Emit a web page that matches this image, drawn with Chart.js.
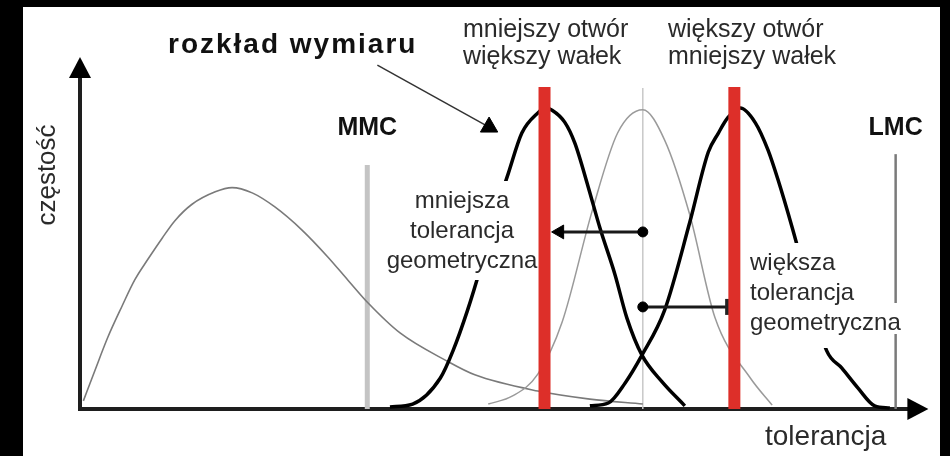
<!DOCTYPE html>
<html><head><meta charset="utf-8">
<script src="https://cdn.jsdelivr.net/npm/chart.js@4.4.1/dist/chart.umd.min.js"></script>
<style>html,body{margin:0;padding:0;background:#000;width:950px;height:456px;overflow:hidden}#wrap{position:absolute;left:0;top:0;width:950px;height:456px}</style>
</head><body><div id="wrap"><canvas id="c" width="950" height="456"></canvas></div>
<script>
// ---- data (abstract units: x 0..100 tolerance, y 0..100 frequency) ----
const skewX = [0.4, 1.8, 3.3, 5.0, 6.5, 8.1, 9.8, 11.3, 13.3, 16.1, 18.1, 20.5, 23.2, 26.4, 29.5, 31.9, 34.3, 38.1, 43.7, 47.0, 54.5, 60.7, 67.0];
const skewY = [2.3, 11.1, 20.3, 29.2, 36.6, 42.6, 48.6, 53.5, 58.1, 61.7, 62.9, 61.4, 57.4, 50.9, 43.2, 36.6, 30.1, 21.6, 13.6, 9.7, 5.1, 2.8, 1.4];
const midX = [48.6, 51.5, 54.5, 57.4, 61.0, 64.0, 67.0, 69.6, 72.6, 75.6, 79.8, 82.4];
const midY = [1.4, 3.7, 9.9, 24.7, 56.5, 78.4, 85.0, 76.4, 55.1, 25.9, 8.8, 1.1];
const leftX = [36.9, 39.6, 42.9, 44.4, 46.1, 47.6, 49.2, 51.0, 52.6, 54.5, 55.4, 56.2, 57.7, 58.9, 60.5, 61.9, 63.7, 65.1, 66.9, 69.3, 72.0];
const leftY = [0.6, 1.4, 8.8, 16.5, 27.8, 39.5, 53.7, 67.0, 78.4, 84.1, 85.5, 84.9, 81.5, 75.6, 63.1, 51.4, 38.1, 25.9, 15.3, 7.7, 0.9];
const rightX = [60.7, 62.9, 64.9, 66.9, 69.6, 72.6, 74.8, 76.0, 77.1, 78.6, 80.4, 81.9, 83.1, 84.8, 86.9, 88.9, 90.7, 92.6, 94.6, 96.4];
const rightY = [0.9, 1.7, 7.4, 15.3, 28.1, 53.1, 73.0, 78.4, 82.7, 85.5, 81.3, 73.6, 65.1, 51.4, 33.0, 16.5, 11.6, 6.0, 0.9, 0.3];
const limitX = [34.2, 97.1];
const limitTop = [69.3, 72.4];
const limitLabels = ['MMC', 'LMC'];
const centerX = 67.0;
const centerTop = 91.2;
const redX = [55.3, 77.9];
const redTop = 91.5;
const arrowY = [50.3, 29.0];
const arrowFrom = [67.0, 67.0];
const arrowTo = [57.1, 77.1];
const pointerX = [35.4, 48.7];
const pointerY = [97.7, 80.1];
const topLabels = [['mniejszy otwór', 'większy wałek'], ['większy otwór', 'mniejszy wałek']];
const tolLabels = [['mniejsza', 'tolerancja', 'geometryczna'], ['większa', 'tolerancja', 'geometryczna']];
const titleText = 'rozkład wymiaru';
const xTitle = 'tolerancja';
const yTitle = 'częstość';

const pts = (xs, ys) => xs.map((x, i) => ({x: x, y: ys[i]}));
const vline = (x, top) => [{x: x, y: 0}, {x: x, y: top}];
const FONT = '"Liberation Sans", Arial, sans-serif';

function drawTolLabels(chart) {
  const c = chart.ctx;
  c.save();
  c.textBaseline = 'alphabetic';
  c.font = '24px ' + FONT;
  const tolPos = [{x: 462, y: 208, align: 'center', tail: 12, tailW: 140}, {x: 750, y: 270, align: 'left', tail: 18, tailW: 110}];
  tolLabels.forEach((lines, k) => {
    const p = tolPos[k];
    lines.forEach((t, j) => {
      const w = c.measureText(t).width;
      const bx = p.align === 'center' ? p.x - w / 2 : p.x;
      const by = p.y + j * 30;
      c.fillStyle = '#fff';
      c.fillRect(bx - 3, by - 27, w + 6, 31);
      if (j === lines.length - 1) c.fillRect(bx - 3, by + 3, Math.min(w + 6, p.tailW), p.tail - 3);
    });
    c.fillStyle = '#2a2a2a';
    c.textAlign = p.align;
    lines.forEach((t, j) => c.fillText(t, p.x, p.y + j * 30));
  });
  c.restore();
}

const deco = {
  id: 'deco',
  beforeDraw(chart) {
    const c = chart.ctx;
    c.save();
    c.fillStyle = '#000'; c.fillRect(0, 0, chart.width, chart.height);
    c.fillStyle = '#fff'; c.fillRect(23, 7, 917, 449);
    c.restore();
  },
  beforeDatasetsDraw(chart) {
    const c = chart.ctx, xs = chart.scales.x, ys = chart.scales.y;
    const x0 = xs.getPixelForValue(0), y0 = ys.getPixelForValue(0);
    const yTip = ys.getPixelForValue(100), xTip = xs.getPixelForValue(101);
    c.save();
    c.strokeStyle = '#1e1e1e'; c.fillStyle = '#000'; c.lineWidth = 4;
    c.beginPath(); c.moveTo(x0, y0 + 2); c.lineTo(x0, yTip + 18); c.stroke();
    c.beginPath(); c.moveTo(x0 - 2, y0); c.lineTo(xTip - 18, y0); c.stroke();
    c.beginPath(); c.moveTo(x0, yTip); c.lineTo(x0 + 11, yTip + 21); c.lineTo(x0 - 11, yTip + 21); c.closePath(); c.fill();
    c.beginPath(); c.moveTo(xTip, y0); c.lineTo(xTip - 21, y0 - 11); c.lineTo(xTip - 21, y0 + 11); c.closePath(); c.fill();
    c.restore();
  },
  afterDatasetDraw(chart, args) {
    if (args.index === 2) drawTolLabels(chart);
  },
  afterDatasetsDraw(chart) {
    const c = chart.ctx, xs = chart.scales.x;
    c.save();
    c.textBaseline = 'alphabetic';
    c.fillStyle = '#111';
    c.font = 'bold 28px ' + FONT;
    c.letterSpacing = '2px';
    c.textAlign = 'left';
    c.fillText(titleText, 168, 53);
    c.letterSpacing = '0px';
    c.font = 'bold 25px ' + FONT;
    c.textAlign = 'center';
    limitLabels.forEach((t, i) => c.fillText(t, xs.getPixelForValue(limitX[i]), 135));
    c.fillStyle = '#2a2a2a';
    c.font = '25px ' + FONT;
    c.textAlign = 'left';
    const topLeft = [463, 668];
    topLabels.forEach((lines, k) => lines.forEach((t, j) => c.fillText(t, topLeft[k], 37 + j * 27)));
    c.font = '28px ' + FONT;
    c.fillText(xTitle, 765, 445);
    c.font = '26px ' + FONT;
    c.translate(48, 175);
    c.rotate(-Math.PI / 2);
    c.textAlign = 'center';
    c.textBaseline = 'middle';
    c.fillText(yTitle, 0, 0);
    c.restore();
  }
};

const base = {pointRadius: 0, fill: false, clip: false, borderCapStyle: 'butt'};
const datasets = [
  Object.assign({}, base, {label: 'red1', data: vline(redX[0], redTop), borderColor: '#dd2f29', borderWidth: 12, order: 0}),
  Object.assign({}, base, {label: 'red2', data: vline(redX[1], redTop), borderColor: '#dd2f29', borderWidth: 12, order: 0}),
  Object.assign({}, base, {label: 'arrowA', data: [{x: arrowFrom[0], y: arrowY[0]}, {x: arrowTo[0], y: arrowY[0]}], borderColor: '#1a1a1a', borderWidth: 3,
    pointStyle: ['circle', 'triangle'], pointRotation: [0, -90], pointRadius: [5, 8], pointBackgroundColor: '#000', pointBorderColor: '#000', pointBorderWidth: 1, order: 1}),
  Object.assign({}, base, {label: 'arrowB', data: [{x: arrowFrom[1], y: arrowY[1]}, {x: arrowTo[1], y: arrowY[1]}], borderColor: '#1a1a1a', borderWidth: 3,
    pointStyle: ['circle', 'line'], pointRotation: [0, 90], pointRadius: [5, 8], pointBackgroundColor: '#000', pointBorderColor: ['#000', '#222'], pointBorderWidth: [1, 5], order: 1}),
  Object.assign({}, base, {label: 'pointer', data: pts(pointerX, pointerY), borderColor: '#333', borderWidth: 1.5,
    pointStyle: ['circle', 'triangle'], pointRadius: [0, 10], pointBackgroundColor: '#000', pointBorderColor: '#000', pointBorderWidth: 1, order: 1}),
  Object.assign({}, base, {label: 'left', data: pts(leftX, leftY), borderColor: '#000', borderWidth: 3.5, cubicInterpolationMode: 'monotone', order: 2}),
  Object.assign({}, base, {label: 'right', data: pts(rightX, rightY), borderColor: '#000', borderWidth: 3.5, cubicInterpolationMode: 'monotone', order: 2}),
  Object.assign({}, base, {label: 'mid', data: pts(midX, midY), borderColor: '#9a9a9a', borderWidth: 1.5, cubicInterpolationMode: 'monotone', order: 3}),
  Object.assign({}, base, {label: 'skew', data: pts(skewX, skewY), borderColor: '#7a7a7a', borderWidth: 1.6, cubicInterpolationMode: 'monotone', order: 3}),
  Object.assign({}, base, {label: 'center', data: vline(centerX, centerTop), borderColor: '#c8c8c8', borderWidth: 1.5, order: 4}),
  Object.assign({}, base, {label: 'MMC', data: vline(limitX[0], limitTop[0]), borderColor: '#c4c4c4', borderWidth: 5, order: 4}),
  Object.assign({}, base, {label: 'LMC', data: vline(limitX[1], limitTop[1]), borderColor: '#7a7a7a', borderWidth: 2.5, order: 4})
];

new Chart(document.getElementById('c'), {
  type: 'line',
  data: {datasets: datasets},
  options: {
    responsive: false,
    animation: false,
    devicePixelRatio: 1,
    layout: {padding: {left: 80, right: 30, top: 57, bottom: 47}, autoPadding: false},
    scales: {
      x: {type: 'linear', min: 0, max: 100, display: false},
      y: {type: 'linear', min: 0, max: 100, display: false}
    },
    plugins: {legend: {display: false}, tooltip: {enabled: false}}
  },
  plugins: [deco]
});
</script></body></html>
